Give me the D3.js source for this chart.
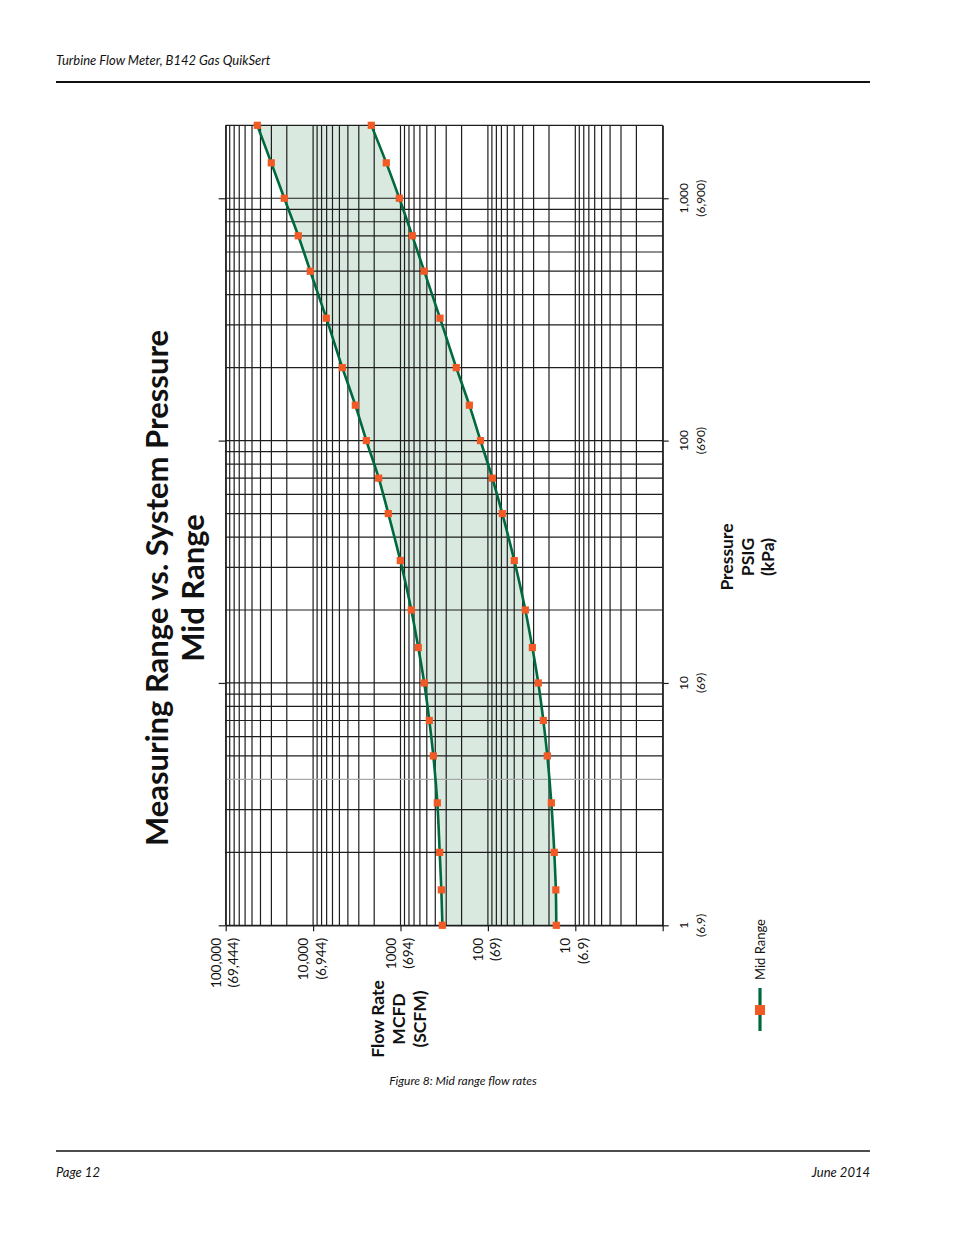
<!DOCTYPE html>
<html>
<head>
<meta charset="utf-8">
<script src="https://cdn.jsdelivr.net/npm/d3@7"></script>
<style>
  body { margin: 0; background: #fff; }
  svg { display: block; font-family: Lato, "Open Sans", sans-serif; }
</style>
</head>
<body>
<div id="chart"></div>
<script>
// page size
var svgWidth = 954;
var svgHeight = 1235;

// data (pressure in PSIG, flow in MCFD)
var pressures = [1, 1.4, 2, 3.2, 5, 7, 10, 14, 20, 32, 50, 70, 100, 140, 200, 320, 500, 700, 1000, 1400, 2000];
var highFlow = [332, 341, 356, 379, 421, 468, 535, 626, 752, 1005, 1379, 1776, 2460, 3290, 4630, 7060, 10770, 14770, 21360, 30080, 43480];
var lowFlow = [16.5, 16.7, 17.4, 18.8, 20.9, 23.2, 26.5, 31.0, 37.3, 49.9, 68.4, 89, 121.5, 163, 230, 353, 535, 733, 1032, 1454, 2158];

// axis ticks and labels
var flowTicks = [100000, 10000, 1000, 100, 10, 1];
var flowLabels = [["100,000", "(69,444)"], ["10,000", "(6,944)"], ["1000", "(694)"], ["100", "(69)"], ["10", "(6.9)"], null];
var pressureTicks = [1, 10, 100, 1000];
var pressureLabels = [["1", "(6.9)"], ["10", "(69)"], ["100", "(690)"], ["1,000", "(6,900)"]];

var green = "#00693e";
var orange = "#f15a24";
var ink = "#1e1e1e";

var svg = d3.select("#chart")
  .append("svg")
  .attr("width", svgWidth)
  .attr("height", svgHeight);

// plot area (chart is drawn turned on its side)
var plot = { left: 225.7, right: 662.7, top: 125.3, bottom: 925.3 };

// flow runs left to right, high to low
var xScale = d3.scaleLog()
  .domain([100000, 1])
  .range([plot.left, plot.right]);

// pressure runs bottom to top
var yScale = d3.scaleLog()
  .domain([1, 2000])
  .range([plot.bottom, plot.top]);

var rows = pressures.map(function(p, i) {
  return { p: p, high: highFlow[i], low: lowFlow[i] };
});

// shaded band between the two curves
var band = d3.area()
  .y(d => yScale(d.p))
  .x0(d => xScale(d.high))
  .x1(d => xScale(d.low))
  .curve(d3.curveMonotoneY);

svg.append("path")
  .datum(rows)
  .attr("d", band)
  .attr("fill", "#d9e9e0");

// grid lines
var flowGrid = [];
[1, 10, 100, 1000, 10000].forEach(function(dec) {
  for (var k = 1; k < 10; k++) flowGrid.push(dec * k);
});
flowGrid.push(100000);

var pressureGrid = [];
[1, 10, 100].forEach(function(dec) {
  for (var k = 1; k < 10; k++) pressureGrid.push(dec * k);
});
pressureGrid.push(1000, 2000);

var grid = svg.append("g")
  .attr("stroke-width", 1.2);

grid.selectAll("line.v")
  .data(flowGrid)
  .enter()
  .append("line")
  .attr("class", "v")
  .attr("x1", d => xScale(d))
  .attr("x2", d => xScale(d))
  .attr("y1", plot.top)
  .attr("y2", plot.bottom)
  .attr("stroke", ink);

grid.selectAll("line.h")
  .data(pressureGrid)
  .enter()
  .append("line")
  .attr("class", "h")
  .attr("x1", plot.left)
  .attr("x2", plot.right)
  .attr("y1", d => yScale(d))
  .attr("y2", d => yScale(d))
  .attr("stroke", d => d === 4 ? "#a8a8a8" : ink);

// axes with only the decade ticks
var bottomAxis = d3.axisBottom(xScale)
  .tickValues(flowTicks)
  .tickSize(6)
  .tickSizeOuter(0)
  .tickFormat("");
var leftAxis = d3.axisLeft(yScale)
  .tickValues(pressureTicks)
  .tickSize(7)
  .tickSizeOuter(0)
  .tickFormat("");
var rightAxis = d3.axisRight(yScale)
  .tickValues(pressureTicks)
  .tickSize(6)
  .tickSizeOuter(0)
  .tickFormat("");

[
  [bottomAxis, `translate(0, ${plot.bottom})`],
  [leftAxis, `translate(${plot.left}, 0)`],
  [rightAxis, `translate(${plot.right}, 0)`]
].forEach(function(a) {
  var g = svg.append("g")
    .attr("transform", a[1])
    .call(a[0]);
  g.selectAll("path, line")
    .attr("stroke", ink)
    .attr("stroke-width", 1.2);
});

// curves and markers
["high", "low"].forEach(function(key) {
  var line = d3.line()
    .x(d => xScale(d[key]))
    .y(d => yScale(d.p))
    .curve(d3.curveMonotoneY);

  svg.append("path")
    .datum(rows)
    .attr("d", line)
    .attr("fill", "none")
    .attr("stroke", green)
    .attr("stroke-width", 2.6);

  svg.selectAll("rect.m-" + key)
    .data(rows)
    .enter()
    .append("rect")
    .attr("class", "m-" + key)
    .attr("x", d => xScale(d[key]) - 3.6)
    .attr("y", d => yScale(d.p) - 3.6)
    .attr("width", 7.2)
    .attr("height", 7.2)
    .attr("fill", orange);
});

// rotated text helper
function vText(x, y, str, size, weight, anchor) {
  return svg.append("text")
    .attr("transform", `translate(${x}, ${y}) rotate(-90)`)
    .attr("text-anchor", anchor)
    .attr("font-size", size)
    .attr("font-weight", weight)
    .attr("fill", "#111")
    .text(str);
}

// flow tick labels
flowTicks.forEach(function(t, i) {
  if (!flowLabels[i]) return;
  vText(xScale(t) - 5, 938, flowLabels[i][0], 13.5, 400, "end");
  vText(xScale(t) + 12.5, 938, flowLabels[i][1], 13.5, 400, "end");
});

// pressure tick labels
pressureTicks.forEach(function(t, i) {
  vText(687.5, yScale(t), pressureLabels[i][0], 12, 400, "middle");
  vText(704.5, yScale(t), pressureLabels[i][1], 12, 400, "middle");
});

// axis titles
["Flow Rate", "MCFD", "(SCFM)"].forEach(function(s, i) {
  vText(384 + i * 21, 1019, s, 17.5, 700, "middle");
});
["Pressure", "PSIG", "(kPa)"].forEach(function(s, i) {
  vText(733 + i * 20.5, 557, s, 17.5, 700, "middle");
});

// chart title
vText(168, 588, "Measuring Range vs. System Pressure", 31, 700, "middle");
vText(204, 588, "Mid Range", 31, 700, "middle");

// legend
svg.append("line")
  .attr("x1", 760).attr("x2", 760)
  .attr("y1", 988).attr("y2", 1031)
  .attr("stroke", green)
  .attr("stroke-width", 3.2);
svg.append("rect")
  .attr("x", 755).attr("y", 1005)
  .attr("width", 10).attr("height", 10)
  .attr("fill", orange);
vText(764.5, 980, "Mid Range", 13, 400, "start");

// page header / footer
svg.append("text")
  .attr("x", 56).attr("y", 65)
  .attr("font-size", 13)
  .attr("font-style", "italic")
  .attr("fill", "#111")
  .text("Turbine Flow Meter, B142 Gas QuikSert");
svg.append("line")
  .attr("x1", 56).attr("x2", 870)
  .attr("y1", 82).attr("y2", 82)
  .attr("stroke", "#111")
  .attr("stroke-width", 2);
svg.append("line")
  .attr("x1", 56).attr("x2", 870)
  .attr("y1", 1151).attr("y2", 1151)
  .attr("stroke", "#111")
  .attr("stroke-width", 1.5);
svg.append("text")
  .attr("x", 56).attr("y", 1177)
  .attr("font-size", 13)
  .attr("font-style", "italic")
  .attr("fill", "#111")
  .text("Page 12");
svg.append("text")
  .attr("x", 870).attr("y", 1177)
  .attr("text-anchor", "end")
  .attr("font-size", 13)
  .attr("font-style", "italic")
  .attr("fill", "#111")
  .text("June 2014");

// caption
svg.append("text")
  .attr("x", 463).attr("y", 1085)
  .attr("text-anchor", "middle")
  .attr("font-size", 12)
  .attr("font-style", "italic")
  .attr("fill", "#111")
  .text("Figure 8:  Mid range flow rates");
</script>
</body>
</html>
